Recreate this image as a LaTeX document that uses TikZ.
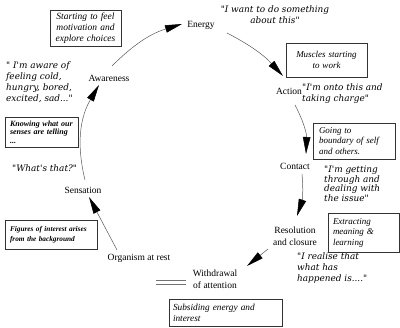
\documentclass[tikz,border=0pt]{standalone}
\usepackage{fontspec}
\setmainfont{Liberation Serif}
\newfontfamily\qfont{DejaVu Serif}
\usetikzlibrary{arrows.meta,shadows}
\begin{document}
\begin{tikzpicture}[x=1pt,y=1pt,
  lbl/.style={font=\fontsize{9.5}{12}\selectfont, align=center, inner sep=0pt},
  quote/.style={font=\qfont\itshape\fontsize{8.9}{11}\selectfont, align=left, inner sep=0pt, anchor=west},
  boxed/.style={draw=black!80, line width=0.6pt, fill=white,
    drop shadow={shadow xshift=1.2pt, shadow yshift=-1.2pt, fill=black!40, opacity=1},
    font=\itshape\fontsize{9}{10.5}\selectfont, inner sep=0pt},
  smallbox/.style={boxed, font=\bfseries\itshape\fontsize{7.5}{9}\selectfont},
  arr/.style={draw=black!65, line width=0.5pt, -{Triangle[length=17pt,width=7.5pt,color=black]}},
  dbl/.style={draw=black!55, line width=0.6pt}
]
\useasboundingbox[fill=white] (0,0) rectangle (400,328);

% stage labels
\node[lbl] (en) at (201,303) {Energy};
\node[lbl] (ac) at (289,237) {Action};
\node[lbl] (co) at (295,162) {Contact};
\node[lbl] (re) at (295,92) {Resolution\\and closure};
\node[lbl] (wi) at (215,49) {Withdrawal\\of attention};
\node[lbl] (or) at (139,70) {Organism at rest};
\node[lbl] (se) at (83,138) {Sensation};
\node[lbl] (aw) at (109,250) {Awareness};

% cycle arrows
\draw[arr] ([shift={(3,12)}]aw.center) to[bend left=14] ([shift={(-19,1)}]en.center);
\draw[arr] ([shift={(26,-8)}]en.center) to[bend left=10] ([shift={(-6,15)}]ac.center);
\draw[arr] ([shift={(6,-14)}]ac.center) to[bend left=15] ([shift={(11,12)}]co.center);
\draw[arr] ([shift={(7,-8)}]co.center) to[bend left=12] ([shift={(2,20)}]re.center);
\draw[arr] ([shift={(-27,-13)}]re.center) -- ([shift={(32,13)}]wi.center);
\draw[arr] ([shift={(-22,8)}]or.center) -- ([shift={(6,-7)}]se.center);
\draw[arr] ([shift={(2,10)}]se.center) to[bend left=22] ([shift={(-10,-7)}]aw.center);

% double line beside withdrawal
\draw[dbl] ([xshift=-7pt,yshift=-1pt]wi.west) -- ++(-30,0);
\draw[dbl] ([xshift=-7pt,yshift=-5pt]wi.west) -- ++(-30,0);

% quotes
\node[quote, anchor=center, align=center] (q1) at (275,313.5) {"I want to do something\\about this"};
\node[quote] (q2) at (302,234.5) {"I'm onto this and\\taking charge"};
\node[quote, font=\qfont\itshape\fontsize{8.9}{9.5}\selectfont] (q3) at (324,144) {"I'm getting\\through and\\dealing with\\the issue"};
\node[quote] (q4) at (297,59.5) {"I realise that\\what has\\happened is...."};
\node[quote] (q5) at (6,245.5) {" I'm aware of\\feeling cold,\\hungry, bored,\\excited, sad..."};
\node[quote] (q6) at (12,160) {"What's that?"};

% boxes
\node[boxed, minimum width=71pt, minimum height=36pt, text width=65pt, align=center, font=\itshape\fontsize{9.5}{11}\selectfont] (b1) at (85.5,300) {Starting to feel\\motivation and\\explore choices};
\node[boxed, minimum width=81pt, minimum height=34pt, text width=75pt, align=center] (b2) at (326.5,268) {Muscles starting\\to work};
\node[boxed, minimum width=82pt, minimum height=36pt, text width=70pt, align=left] (b3) at (354,187) {Going to\\boundary of self\\and others.};
\node[boxed, minimum width=71pt, minimum height=39pt, text width=61pt, align=left] (b4) at (363.5,95.5) {Extracting\\meaning \&\\learning};
\node[smallbox, minimum width=73pt, minimum height=30pt, text width=63pt, align=left, font=\bfseries\itshape\fontsize{8}{8.7}\selectfont] (b5) at (41.5,196) {Knowing what our\\senses are telling\\...};
\node[smallbox, minimum width=92pt, minimum height=29pt, text width=82pt, align=left, font=\bfseries\itshape\fontsize{7.3}{10}\selectfont] (b6) at (51,93.5) {Figures of interest arises\\from the background};
\node[boxed, minimum width=113pt, minimum height=27pt, text width=105pt, align=left, font=\itshape\fontsize{9.3}{11}\selectfont] (b7) at (225.5,15.5) {Subsiding energy and\\interest};
\end{tikzpicture}
\end{document}
